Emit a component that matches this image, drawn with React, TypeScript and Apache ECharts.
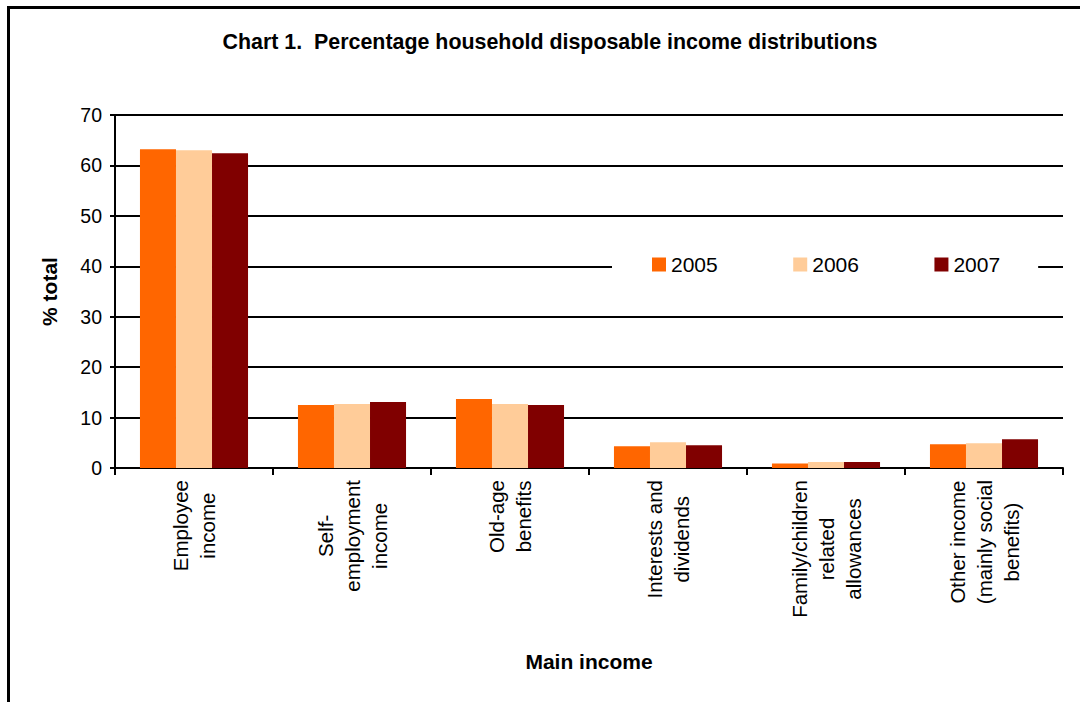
import React, { useEffect, useRef } from "react";
import * as echarts from "echarts";

const categories = [
  "Employee\nincome",
  "Self-\nemployment\nincome",
  "Old-age\nbenefits",
  "Interests and\ndividends",
  "Family/children\nrelated\nallowances",
  "Other income\n(mainly social\nbenefits)",
];
const years = ["2005", "2006", "2007"];
const values2005 = [63.2, 12.5, 13.7, 4.3, 0.9, 4.7];
const values2006 = [63.0, 12.7, 12.7, 5.1, 1.2, 4.9];
const values2007 = [62.4, 13.1, 12.5, 4.5, 1.2, 5.7];
const colors = ["#FF6600", "#FFCC99", "#800000"];
const yTicks = [0, 10, 20, 30, 40, 50, 60, 70];

const FONT = "'Liberation Sans', Arial, sans-serif";

export default function App() {
  const ref = useRef<HTMLDivElement>(null);
  useEffect(() => {
    document.body.style.margin = "0";
    const chart = echarts.init(ref.current!, undefined, { renderer: "svg" });
    const seriesData = [values2005, values2006, values2007];
    chart.setOption({
      animation: false,
      textStyle: { fontFamily: FONT, color: "#000" },
      title: {
        text: "Chart 1.  Percentage household disposable income distributions",
        left: 550,
        textAlign: "center",
        top: 31,
        padding: 0,
        textStyle: { fontFamily: FONT, fontSize: 21.4, fontWeight: "bold", color: "#000" },
      },
      graphic: [
        {
          type: "rect",
          shape: { x: 8.5, y: 7.5, width: 1200, height: 1000 },
          style: { fill: "none", stroke: "#000", lineWidth: 3 },
          silent: true,
        },
      ],
      legend: {
        data: years,
        left: 612,
        top: 250,
        padding: [4, 38, 4, 40],
        backgroundColor: "#fff",
        itemWidth: 14,
        itemHeight: 14,
        itemGap: 75.5,
        icon: "rect",
        textStyle: { fontFamily: FONT, fontSize: 21, color: "#000", lineHeight: 20 },
        z: 10,
      },
      grid: {
        left: 115,
        right: 17,
        top: 115,
        bottom: 234,
        outerBoundsMode: "none",
        containLabel: false,
      },
      xAxis: {
        type: "category",
        data: categories,
        name: "Main income",
        nameLocation: "middle",
        nameGap: 183,
        nameTextStyle: { fontFamily: FONT, fontSize: 21, fontWeight: "bold", color: "#000", verticalAlign: "top" },
        axisLine: { lineStyle: { color: "#000", width: 2 } },
        axisTick: { show: true, length: 7, lineStyle: { color: "#000", width: 2 } },
        axisLabel: {
          rotate: 90,
          margin: 12,
          interval: 0,
          color: "#000",
          fontFamily: FONT,
          fontSize: 20.5,
          formatter: (v: string) => v.split("\n").map((l) => `{c|${l}}`).join("\n"),
          rich: { c: { align: "center", fontFamily: FONT, fontSize: 20.5, lineHeight: 27, color: "#000" } },
        },
      },
      yAxis: {
        type: "value",
        min: yTicks[0],
        max: yTicks[yTicks.length - 1],
        interval: 10,
        name: "% total",
        nameLocation: "middle",
        nameGap: 55,
        nameRotate: 90,
        nameTextStyle: { fontFamily: FONT, fontSize: 21, fontWeight: "bold", color: "#000" },
        axisLine: { show: true, lineStyle: { color: "#000", width: 2 } },
        axisTick: { show: true, length: 5, lineStyle: { color: "#000", width: 2 } },
        axisLabel: { color: "#000", fontFamily: FONT, fontSize: 19.5, margin: 13 },
        splitLine: { show: true, lineStyle: { color: "#000", width: 2 } },
      },
      series: years.map((y, i) => ({
        name: y,
        type: "bar",
        data: seriesData[i],
        barGap: "0%",
        barCategoryGap: "31.6%",
        itemStyle: { color: colors[i] },
      })),
    });
    return () => chart.dispose();
  }, []);
  return <div ref={ref} style={{ width: 1080, height: 702 }} />;
}
